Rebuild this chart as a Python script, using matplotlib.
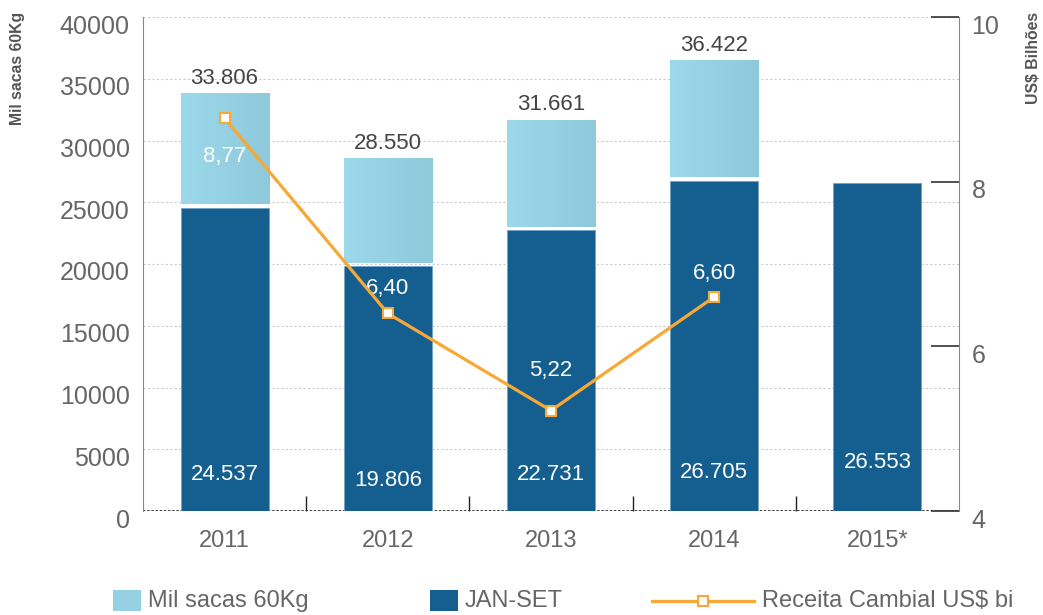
import numpy as np
import matplotlib
matplotlib.use("Agg")
import matplotlib.pyplot as plt
import matplotlib.transforms as mtransforms
from matplotlib.patches import Rectangle
from matplotlib.lines import Line2D

plt.rcParams['font.family'] = ['Liberation Sans', 'DejaVu Sans']

# data
years = ["2011", "2012", "2013", "2014", "2015*"]
total = [33806, 28550, 31661, 36422, None]
jan_set = [24537, 19806, 22731, 26705, 26553]
receita = [8.77, 6.40, 5.22, 6.60]
total_labels = ["33.806", "28.550", "31.661", "36.422"]
jan_set_labels = ["24.537", "19.806", "22.731", "26.705", "26.553"]
receita_labels = ["8,77", "6,40", "5,22", "6,60"]

dark = "#145f8f"
light_l = np.array([0.61, 0.85, 0.92])
light_r = np.array([0.56, 0.79, 0.86])
orange = "#f7a836"
gray = "#666666"

W, H = 1043, 615
fig = plt.figure(figsize=(W / 100, H / 100), dpi=100)
ax = fig.add_axes([143 / W, 1 - 511 / H, (959 - 143) / W, (511 - 17) / H])
x = np.arange(len(years))
w = 0.54

# grid and dashed baseline
for yv in range(5000, 40001, 5000):
    ax.axhline(yv, color="#cccccc", lw=0.8, ls=(0, (2, 2)), zorder=0)
ax.axhline(0, color="#222222", lw=1.2, ls=(0, (1.5, 1)), zorder=1)

# dark bars (JAN-SET)
ax.bar(x, jan_set, width=w, color=dark, edgecolor="#6fa3c4", linewidth=0.6, zorder=2)

# light part on top with a horizontal gradient
grad = np.linspace(0, 1, 50)
img = light_l[None, :] * (1 - grad[:, None]) + light_r[None, :] * grad[:, None]
img = img[None, :, :]
for i, t in enumerate(total):
    if t is None:
        continue
    lo = jan_set[i] + 300
    ax.imshow(img, extent=(x[i] - w / 2, x[i] + w / 2, lo, t), aspect="auto", zorder=2)
    ax.annotate(total_labels[i], (x[i], t), xytext=(0, 11), textcoords="offset points",
                ha="center", va="center", fontsize=16, color="#444444")

# label heights above baseline (px)
low_off = [36, 31, 36, 39, 48]
for i, lab in enumerate(jan_set_labels):
    ax.annotate(lab, (x[i], 0), xytext=(0, low_off[i] * 0.72), textcoords="offset points",
                ha="center", va="center", fontsize=16, color="white", zorder=5)

ax.set_xlim(-0.5, len(years) - 0.5)
ax.set_ylim(0, 40000)
ax.set_yticks(range(0, 40001, 5000))
ax.set_yticklabels([str(v) for v in range(0, 40001, 5000)])
ax.set_xticks(x)
ax.set_xticklabels(years)
ax.set_xticks(x[:-1] + 0.5, minor=True)
ax.tick_params(axis="x", which="major", length=0, pad=14, labelsize=17, labelcolor=gray)
ax.tick_params(axis="x", which="minor", direction="in", length=11, width=1, color="#222222")
ax.tick_params(axis="y", length=0, pad=9.5, labelsize=18, labelcolor=gray)
for s in ["top", "right", "bottom"]:
    ax.spines[s].set_visible(False)
ax.spines["left"].set_color("#888888")

shift = mtransforms.ScaledTranslation(0, -0.07, fig.dpi_scale_trans)
for lab in ax.get_yticklabels():
    lab.set_transform(lab.get_transform() + shift)

# line on secondary axis
ax2 = ax.twinx()
ax2.plot(x[:len(receita)], receita, color=orange, lw=2.3, marker="s", ms=6.5,
         mfc="white", mec=orange, mew=1.5, zorder=4)
offsets = [-38, 25, 40, 23]
for i, v in enumerate(receita):
    ax2.annotate(receita_labels[i], (x[i], v), xytext=(0, offsets[i] * 0.72), textcoords="offset points",
                 ha="center", va="center", fontsize=16, color="white")
ax2.set_ylim(4, 10)
ax2.set_yticks([4, 6, 8, 10])
ax2.tick_params(axis="y", direction="in", length=20, width=1.2, color="#333333",
                pad=9, labelsize=18, labelcolor=gray)
for s in ["top", "left", "bottom"]:
    ax2.spines[s].set_visible(False)
ax2.spines["right"].set_color("#888888")
for lab in ax2.get_yticklabels():
    lab.set_transform(lab.get_transform() + shift)

fig.text(18 / W, 1 - 68 / H, "Mil sacas 60Kg", rotation=90, ha="center", va="center",
         fontsize=11.3, fontweight="bold", color="#555555")
fig.text(1033 / W, 1 - 58 / H, "US$ Bilhões", rotation=90, ha="center", va="center",
         fontsize=11.3, fontweight="bold", color="#555555")

# legend drawn by hand along the bottom
ly = 1 - 601 / H
fig.add_artist(Rectangle((113 / W, 1 - 611 / H), 28 / W, 21 / H, transform=fig.transFigure,
                         facecolor=tuple((light_l + light_r) / 2), edgecolor="none"))
fig.text(148 / W, ly, "Mil sacas 60Kg", ha="left", va="center", fontsize=17, color=gray)
fig.add_artist(Rectangle((430 / W, 1 - 611 / H), 28 / W, 21 / H, transform=fig.transFigure,
                         facecolor=dark, edgecolor="none"))
fig.text(465 / W, ly, "JAN-SET", ha="left", va="center", fontsize=17, color=gray)
fig.add_artist(Line2D([652 / W, 754 / W], [ly, ly], transform=fig.transFigure, color=orange, lw=2.3))
fig.add_artist(Line2D([703 / W], [ly], transform=fig.transFigure, marker="s", ms=6.5,
                      mfc="white", mec=orange, mew=1.5))
fig.text(762 / W, ly, "Receita Cambial US$ bi", ha="left", va="center", fontsize=17, color=gray)

fig.savefig("out.png", dpi=100)
